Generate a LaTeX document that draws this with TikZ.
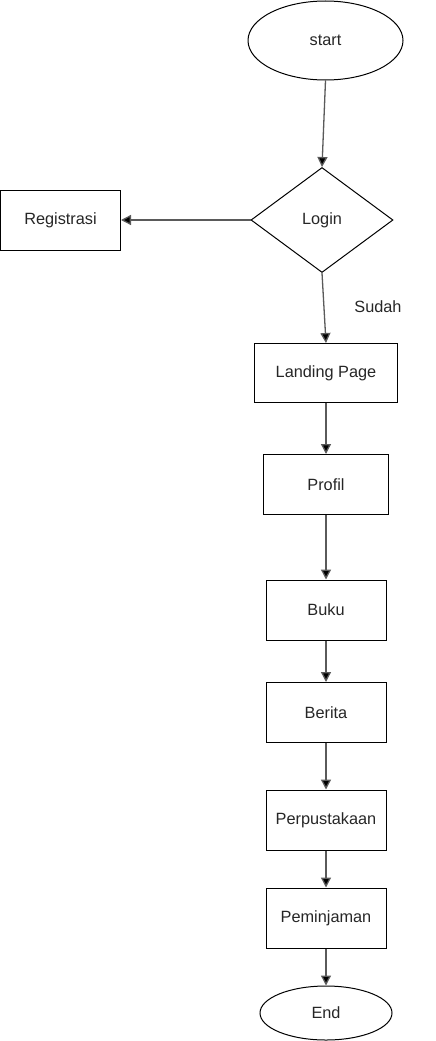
\documentclass[tikz,border=0pt]{standalone}
\usepackage{fontspec}
\setmainfont{Liberation Sans}
\usetikzlibrary{shapes.geometric,arrows.meta}
\definecolor{linegray}{HTML}{5A5A5A}
\tikzset{
  lbl/.style={font=\fontsize{16.3}{19}\selectfont, text=black!85},
  box/.style={draw=black, line width=1pt, rectangle, inner sep=0pt, lbl},
  oval/.style={draw=black, line width=1pt, ellipse, inner sep=0pt, lbl},
  decision/.style={draw=black, line width=1pt, diamond, inner sep=0pt, lbl},
  flow/.style={draw=linegray, line width=1.3pt, -{Triangle[length=10pt,width=10pt,fill=black]}}
}
\begin{document}
\begin{tikzpicture}[x=1pt,y=-1pt]
\useasboundingbox (0,0) rectangle (436,1041);
\node[oval, minimum width=155pt, minimum height=79pt] (start) at (325.5,40.5) {start};
\node[decision, minimum width=142pt, minimum height=105pt] (login) at (322,220) {Login};
\node[box, minimum width=120pt, minimum height=60pt] (reg) at (60.5,220) {Registrasi};
\node[box, minimum width=143pt, minimum height=59pt] (land) at (326,373) {Landing Page};
\node[box, minimum width=125pt, minimum height=60pt] (prof) at (326,484.5) {Profil};
\node[box, minimum width=120pt, minimum height=60pt] (buku) at (326,610) {Buku};
\node[box, minimum width=120pt, minimum height=60pt] (ber) at (326,712.5) {Berita};
\node[box, minimum width=120pt, minimum height=60pt] (perp) at (326,820) {Perpustakaan};
\node[box, minimum width=120pt, minimum height=60pt] (pem) at (326,918) {Peminjaman};
\node[oval, minimum width=132pt, minimum height=54pt] (end) at (326,1013) {End};
\node[lbl] (sudah) at (378,307) {Sudah};
\draw[flow] (start.south) -- (login.north);
\draw[flow] (login.west) -- (reg.east);
\draw[flow] (login.south) -- (land.north);
\draw[flow] (land) -- (prof);
\draw[flow] (prof) -- (buku);
\draw[flow] (buku) -- (ber);
\draw[flow] (ber) -- (perp);
\draw[flow] (perp) -- (pem);
\draw[flow] (pem) -- (end);
\end{tikzpicture}
\end{document}
